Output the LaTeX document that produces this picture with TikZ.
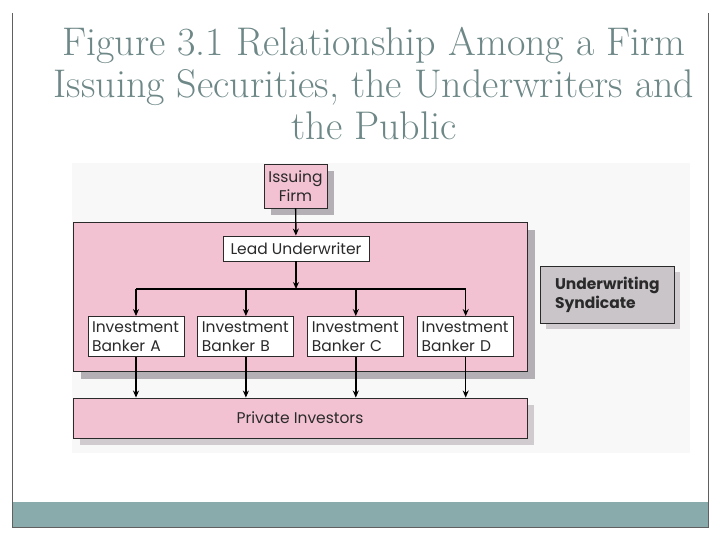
\documentclass[tikz,border=0pt]{standalone}
\usepackage{fontspec}
\newfontfamily\diafont{Poppins}
\usetikzlibrary{positioning,arrows.meta,shadows}
\definecolor{pinkfill}{HTML}{F2C2D3}
\definecolor{panelgray}{HTML}{F8F8F9}
\definecolor{darkshade}{HTML}{B4AFB4}
\definecolor{lightshade}{HTML}{CFCBCF}
\definecolor{syndgray}{HTML}{C9C5C9}
\definecolor{boxline}{HTML}{2A2A2A}
\definecolor{framegray}{HTML}{606060}
\definecolor{bandteal}{HTML}{8AABAB}
\definecolor{titlegray}{HTML}{6E8787}
\tikzset{
  >={Stealth[length=7pt,width=6pt]},
  box/.style={draw=boxline, line width=0.9pt, inner sep=0pt,
    font=\diafont\fontsize{15.5}{19}\selectfont, text=boxline},
  pinkbox/.style={box, fill=pinkfill},
  whitebox/.style={box, fill=white},
  banker/.style={whitebox, minimum width=96pt, minimum height=40pt,
    text width=88pt, align=left},
  flow/.style={->, line width=1.4pt, black},
}

\begin{document}
\begin{tikzpicture}[x=1pt, y=-1pt, node distance=13pt]
\useasboundingbox (0,0) rectangle (720,540);

% slide frame and footer band
\fill[bandteal] (12,502) rectangle (708,527);
\draw[framegray, line width=0.8pt] (12,13) -- (12,527) -- (708,527) -- (708,13);

% title
\node[text=titlegray, align=center, font=\fontsize{40}{42}\selectfont] (title) at (374,84)
  {Figure 3.1 Relationship Among a Firm\\
   Issuing Securities, the Underwriters and\\
   the Public};

% figure panel
\fill[panelgray] (72,163) rectangle (690,453);

% boxes
\node[pinkbox, minimum width=454pt, minimum height=149pt,
  drop shadow={shadow xshift=8pt, shadow yshift=-8pt, fill=darkshade, opacity=1}]
  (group) at (300,296.5) {};
\node[pinkbox, minimum width=454pt, minimum height=40pt,
  drop shadow={shadow xshift=7pt, shadow yshift=-7pt, fill=lightshade, opacity=1}]
  (public) at (300,418) {Private Investors};
\node[pinkbox, minimum width=63pt, minimum height=44pt, align=center,
  drop shadow={shadow xshift=7pt, shadow yshift=-7pt, fill=darkshade, opacity=1}]
  (firm) at (295.5,186) {Issuing\\Firm};
\node[whitebox, minimum width=146pt, minimum height=25pt] (lead) at (296,248.5) {Lead Underwriter};

\node[banker] (bankA) at (136,336.5) {Investment\\Banker A};
\node[banker, right=of bankA] (bankB) {Investment\\Banker B};
\node[banker, right=of bankB] (bankC) {Investment\\Banker C};
\node[banker, right=of bankC] (bankD) {Investment\\Banker D};

\node[box, fill=syndgray, minimum width=134pt, minimum height=57pt,
  text width=104pt, align=left, font=\diafont\bfseries\fontsize{15.5}{19}\selectfont,
  drop shadow={shadow xshift=6pt, shadow yshift=-6pt, fill=lightshade, opacity=1}]
  (synd) at (607,294.5) {Underwriting\\Syndicate};

% arrows
\coordinate (bus) at (296,289);
\draw[flow] (firm) -- (lead);
\draw[flow] (lead) -- (bus);
\draw[line width=1.4pt] (bankA.north |- bus) -- (bankD.north |- bus);
\foreach \b in {bankA,bankB,bankC,bankD}{
  \draw[flow] (\b.north |- bus) -- (\b);
  \draw[flow] (\b) -- (\b |- public.north);
}
\end{tikzpicture}
\end{document}
